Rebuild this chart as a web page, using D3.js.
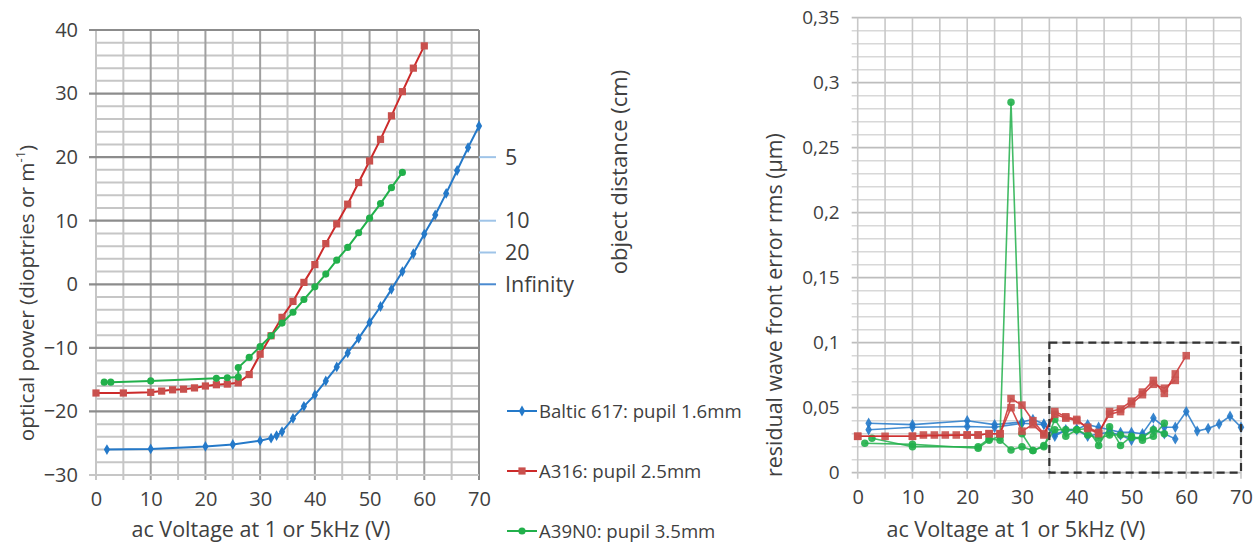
<!DOCTYPE html>
<html><head><meta charset="utf-8">
<script src="https://cdn.jsdelivr.net/npm/d3@7"></script>
<style>
body{margin:0;background:#fff}
svg{display:block}
text{font-family:"Open Sans",sans-serif;fill:#404040}
</style>
</head><body><svg id="c" width="1260" height="548"></svg>
<script>
// ---------- DATA ----------
const seriesNames = ["Baltic 617: pupil 1.6mm", "A316: pupil 2.5mm", "A39N0: pupil 3.5mm"];

// Left chart: optical power (dioptries) vs ac voltage (V)
const balticV = [2,10,20,25,30,32,33,34,36,38,40,42,44,46,48,50,52,54,56,58,60,62,64,66,68,70];
const balticP = [-26.0,-25.9,-25.5,-25.2,-24.6,-24.2,-23.8,-23.2,-21.1,-19.2,-17.4,-15.2,-13.0,-10.8,-8.5,-6.0,-3.5,-0.8,2.0,4.8,7.9,10.9,14.3,17.9,21.5,24.9];
const a316V = [0,5,10,12,14,16,18,20,22,24,26,28,30,32,34,36,38,40,42,44,46,48,50,52,54,56,58,60];
const a316P = [-17.1,-17.1,-17.0,-16.8,-16.6,-16.5,-16.3,-16.0,-15.8,-15.7,-15.5,-14.2,-11.0,-8.1,-5.2,-2.7,0.3,3.1,6.4,9.5,12.6,16.0,19.4,22.8,26.5,30.3,34.0,37.5];
const a39V = [1.5,2.7,10,22,24,26,26,28,30,32,34,36,38,40,42,44,46,48,50,52,54,56];
const a39P = [-15.4,-15.4,-15.2,-14.8,-14.7,-14.6,-13.1,-11.5,-9.8,-8.1,-6.1,-4.4,-2.4,-0.4,1.6,3.8,5.8,8.1,10.4,12.7,15.2,17.6];

// Secondary axis: object distance (cm) and the corresponding power
const objDistLabels = ["5", "10", "20", "Infinity"];
const objDistPower = [20, 10, 5, 0];

// Right chart: residual wave front error rms (µm) vs voltage — up and down sweeps
const balticUpV = [2,10,20,25,30,32,34,36,38,40,42,44,46,48,50,52,54,56,58,60,62,64,66,68,70];
const balticUpE = [0.038,0.037,0.040,0.037,0.039,0.041,0.0375,0.028,0.033,0.0335,0.037,0.035,0.033,0.031,0.031,0.030,0.042,0.035,0.035,0.047,0.032,0.034,0.0375,0.0435,0.035];
const balticDnV = [58,56,54,52,50,48,46,44,42,40,38,36,34,30,25,20,10,2];
const balticDnE = [0.026,0.030,0.033,0.028,0.025,0.029,0.031,0.030,0.028,0.033,0.032,0.030,0.037,0.038,0.035,0.0355,0.035,0.033];

const a316UpV = [0,5,10,12,14,16,18,20,22,24,26,28,30,32,34,36,38,40,42,44,46,48,50,52,54,56,58,60];
const a316UpE = [0.028,0.028,0.028,0.029,0.029,0.029,0.029,0.029,0.029,0.030,0.030,0.057,0.052,0.040,0.030,0.047,0.043,0.041,0.034,0.030,0.047,0.049,0.055,0.062,0.071,0.061,0.076,0.090];
const a316DnV = [58,56,54,52,50,48,46,44,42,40,38,36,34,32,30,28,26,24,22,20,10,0];
const a316DnE = [0.071,0.065,0.068,0.060,0.053,0.047,0.045,0.031,0.035,0.040,0.042,0.045,0.029,0.037,0.032,0.050,0.030,0.030,0.029,0.029,0.028,0.028];

const a39UpV = [1.3,10,22,24,26,28,30,32,34,36,38,40,42,44,46,48,50,52,54,56];
const a39UpE = [0.0226,0.0218,0.0188,0.025,0.028,0.285,0.030,0.017,0.020,0.041,0.028,0.033,0.034,0.021,0.0354,0.021,0.028,0.025,0.028,0.038];
const a39DnV = [56,54,52,50,48,46,44,42,40,38,36,34,32,30,28,26,24,22,10,2.6];
const a39DnE = [0.030,0.033,0.027,0.027,0.029,0.029,0.0265,0.029,0.033,0.033,0.033,0.021,0.017,0.020,0.0175,0.025,0.026,0.020,0.020,0.0265];

// Ticks
const leftXTicks = [0,10,20,30,40,50,60,70];
const leftYTicks = [-30,-20,-10,0,10,20,30,40];
const rightYTicks = [0,0.05,0.1,0.15,0.2,0.25,0.3,0.35];
const rightYLabels = ["0","0,05","0,1","0,15","0,2","0,25","0,3","0,35"];

// ---------- STYLE ----------
const colors = ["#2479c9", "#cc2a2a", "#22b04b"];
const markerFill = ["#2479c9", "#c9504d", "#22b04b"];
const symbols = [d3.symbolDiamond, d3.symbolSquare, d3.symbolCircle];
const symSizes = [34, 52, 40];
const tickFont = "20px", titleFont = "21.5px";

const svg = d3.select("#c");

function zip(xs, ys){ return xs.map((v,i)=>[v, ys[i]]); }

// ---------- LEFT CHART ----------
const xL = d3.scaleLinear().domain([0,70]).range([96,479]);
const yL = d3.scaleLinear().domain([-30,40]).range([475,30]);
const gL = svg.append("g");

// minor horizontal grid (every 2)
gL.append("g").selectAll("line").data(d3.range(-30,41,2).filter(v=>v%10!==0)).join("line")
  .attr("x1",xL(0)).attr("x2",xL(70)).attr("y1",d=>yL(d)).attr("y2",d=>yL(d))
  .attr("stroke","#c6c6c6").attr("stroke-width",2);
// minor vertical grid (every 5)
gL.append("g").selectAll("line").data(d3.range(5,70,10)).join("line")
  .attr("x1",d=>xL(d)).attr("x2",d=>xL(d)).attr("y1",yL(40)).attr("y2",yL(-30)+5)
  .attr("stroke","#c6c6c6").attr("stroke-width",2);
// major vertical grid (every 10)
gL.append("g").selectAll("line").data(leftXTicks).join("line")
  .attr("x1",d=>xL(d)).attr("x2",d=>xL(d)).attr("y1",yL(40)).attr("y2",yL(-30)+5)
  .attr("stroke",d=>d===0?"#c6c6c6":(d===70?"#8c8c8c":"#a0a0a0")).attr("stroke-width",2);
// major horizontal grid (every 10)
gL.append("g").selectAll("line").data(leftYTicks).join("line")
  .attr("x1",xL(0)-7).attr("x2",xL(70)).attr("y1",d=>yL(d)).attr("y2",d=>yL(d))
  .attr("stroke",d=>d===-30?"#c6c6c6":"#8c8c8c").attr("stroke-width",2.2);

// axes labels
const axL = gL.append("g").attr("transform",`translate(${xL(0)-9},0)`)
  .call(d3.axisLeft(yL).tickValues(leftYTicks).tickSize(0).tickPadding(9).tickFormat(d3.format("d")));
axL.select(".domain").remove();
axL.selectAll("text").style("font-size",tickFont).attr("fill","#404040");
const axLb = gL.append("g").attr("transform",`translate(0,${yL(-30)+13})`)
  .call(d3.axisBottom(xL).tickValues(leftXTicks).tickSize(0).tickPadding(0).tickFormat(d3.format("d")));
axLb.select(".domain").remove();
axLb.selectAll("text").style("font-size",tickFont).attr("fill","#404040").attr("dy","0.9em");

// secondary axis: object distance
const sec = gL.append("g");
sec.selectAll("line").data(objDistPower).join("line")
  .attr("x1",xL(70)).attr("x2",xL(70)+17).attr("y1",d=>yL(d)).attr("y2",d=>yL(d))
  .attr("stroke",(d,i)=>i===3?"#4a8ad0":"#9fc4e8").attr("stroke-width",2);
sec.selectAll("text").data(objDistLabels).join("text")
  .attr("x",xL(70)+26).attr("y",(d,i)=>yL(objDistPower[i])).attr("dy","0.35em")
  .style("font-size","21.5px").attr("fill","#262626").text(d=>d);

// series lines
const leftSeries = [zip(balticV,balticP), zip(a316V,a316P), zip(a39V,a39P)];
const lineL = d3.line().x(d=>xL(d[0])).y(d=>yL(d[1]));
leftSeries.forEach((s,i)=>{
  gL.append("path").datum(s).attr("d",lineL).attr("fill","none")
    .attr("stroke",colors[i]).attr("stroke-width",2);
  gL.append("g").selectAll("path").data(s).join("path")
    .attr("transform",d=>`translate(${xL(d[0])},${yL(d[1])})`)
    .attr("d",d3.symbol().type(symbols[i]).size(symSizes[i]))
    .attr("fill",markerFill[i]);
});

// titles
gL.append("text").attr("x",261).attr("y",537).attr("text-anchor","middle")
  .style("font-size",titleFont).text("ac Voltage at 1 or 5kHz (V)");
const yt = gL.append("text").attr("transform","translate(34,293) rotate(-90)").attr("text-anchor","middle")
  .style("font-size","20.7px");
yt.append("tspan").text("optical power (dioptries or m");
yt.append("tspan").attr("baseline-shift","super").style("font-size","13px").text("-1");
yt.append("tspan").text(")");
gL.append("text").attr("transform","translate(627,172) rotate(-90)").attr("text-anchor","middle")
  .style("font-size","22px").text("object distance (cm)");

// legend
const leg = gL.append("g");
seriesNames.forEach((n,i)=>{
  const ly = 411 + i*60;
  leg.append("line").attr("x1",507).attr("x2",537).attr("y1",ly).attr("y2",ly)
    .attr("stroke",colors[i]).attr("stroke-width",2);
  leg.append("path").attr("transform",`translate(522,${ly})`)
    .attr("d",d3.symbol().type(symbols[i]).size(symSizes[i])).attr("fill",markerFill[i]);
  leg.append("text").attr("x",539).attr("y",ly).attr("dy","0.35em")
    .style("font-size","18.6px").attr("fill","#262626").text(n);
});

// ---------- RIGHT CHART ----------
const xR = d3.scaleLinear().domain([0,70]).range([857.7,1241]);
const yR = d3.scaleLinear().domain([0,0.35]).range([472.7,17.7]);
const gR = svg.append("g");

gR.append("g").selectAll("line").data(d3.range(0,36).map(v=>v/100)).join("line")
  .attr("x1",xR(0)-6).attr("x2",xR(70)).attr("y1",d=>yR(d)).attr("y2",d=>yR(d))
  .attr("stroke",(d,i)=>i%5===0?"#bdbdbd":"#d8d8d8").attr("stroke-width",(d,i)=>i%5===0?1.8:1.5);
gR.append("g").selectAll("line").data(d3.range(0,71,5)).join("line")
  .attr("x1",d=>xR(d)).attr("x2",d=>xR(d)).attr("y1",yR(0.35)).attr("y2",yR(0)+6)
  .attr("stroke","#c8c8c8").attr("stroke-width",1.6);

const axR = gR.append("g").attr("transform",`translate(${xR(0)-8},0)`)
  .call(d3.axisLeft(yR).tickValues(rightYTicks).tickSize(0).tickPadding(10).tickFormat((d,i)=>rightYLabels[i]));
axR.select(".domain").remove();
axR.selectAll("text").style("font-size","19px").attr("fill","#404040");
const axRb = gR.append("g").attr("transform",`translate(0,${yR(0)+13})`)
  .call(d3.axisBottom(xR).tickValues(leftXTicks).tickSize(0).tickPadding(0).tickFormat(d3.format("d")));
axRb.select(".domain").remove();
axRb.selectAll("text").style("font-size",tickFont).attr("fill","#404040").attr("dy","0.9em");

gR.append("text").attr("x",1016).attr("y",537).attr("text-anchor","middle")
  .style("font-size",titleFont).text("ac Voltage at 1 or 5kHz (V)");
gR.append("text").attr("transform","translate(782,305) rotate(-90)").attr("text-anchor","middle")
  .style("font-size","21.4px").text("residual wave front error rms (µm)");

const rightSeries = [
  [zip(balticUpV,balticUpE), zip(balticDnV,balticDnE)],
  [zip(a316UpV,a316UpE), zip(a316DnV,a316DnE)],
  [zip(a39UpV,a39UpE), zip(a39DnV,a39DnE)]
];
const lineR = d3.line().x(d=>xR(d[0])).y(d=>yR(d[1]));
[0,2,1].forEach(i=>{
  rightSeries[i].forEach(s=>{
    gR.append("path").datum(s).attr("d",lineR).attr("fill","none")
      .attr("stroke",colors[i]).attr("stroke-width",1.6).attr("stroke-opacity",0.85);
    gR.append("g").selectAll("path").data(s).join("path")
      .attr("transform",d=>`translate(${xR(d[0])},${yR(d[1])})`)
      .attr("d",d3.symbol().type(symbols[i]).size(symSizes[i]*1.1))
      .attr("fill",markerFill[i]).attr("fill-opacity",0.9);
  });
});

// dashed highlight box
gR.append("rect").attr("x",xR(35)).attr("y",yR(0.1))
  .attr("width",xR(70)-xR(35)).attr("height",yR(0)-yR(0.1))
  .attr("fill","none").attr("stroke","#333").attr("stroke-width",2.2).attr("stroke-dasharray","8,5");
</script>
</body></html>
